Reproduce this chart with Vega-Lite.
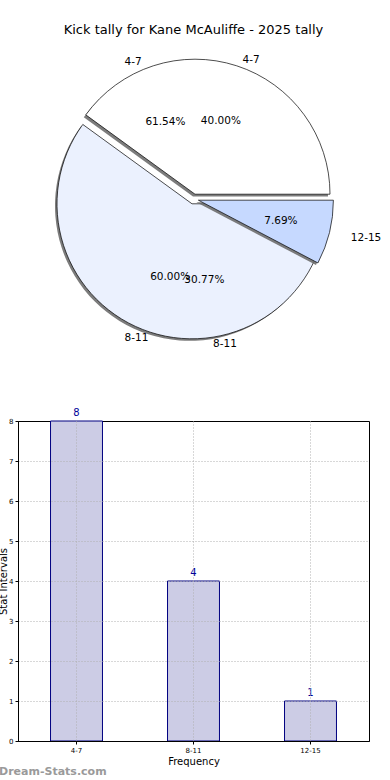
{
  "$schema": "https://vega.github.io/schema/vega-lite/v6.json",
  "autosize": "pad",
  "padding": {"left": -2, "top": 23, "right": 0, "bottom": 0},
  "background": "white",
  "config": {
    "font": "DejaVu Sans",
    "view": {"stroke": null},
    "text": {"font": "DejaVu Sans", "color": "black"}
  },
  "datasets": {
    "tally": [
      {"interval": "4-7", "count": 8, "idx": 1},
      {"interval": "8-11", "count": 4, "idx": 2},
      {"interval": "12-15", "count": 1, "idx": 3}
    ],
    "prev": [
      {"interval": "4-7", "share": 40, "idx": 1},
      {"interval": "8-11", "share": 60, "idx": 2}
    ]
  },
  "bounds": "flush",
  "spacing": 72,
  "vconcat": [
    {
      "width": 351,
      "height": 300,
      "title": {"text": "Kick tally for Kane McAuliffe - 2025 tally", "fontSize": 13, "fontWeight": "normal", "color": "black", "anchor": "middle", "offset": 6},
      "layer": [
        {
          "data": {"name": "prev"},
          "transform": [
            {"joinaggregate": [{"op": "sum", "field": "share", "as": "total"}]},
            {"calculate": "datum.share / datum.total", "as": "frac"}
          ],
          "encoding": {
            "theta": {"field": "share", "type": "quantitative", "stack": true, "scale": {"range": [1.5708, -4.7124]}},
            "order": {"field": "idx", "type": "quantitative"}
          },
          "layer": [
            {"mark": {"type": "arc", "radius": 135, "xOffset": -0.5, "yOffset": -2.5, "fill": "#6e6e6e"},
             "encoding": {"opacity": {"condition": {"test": "datum.interval === '4-7'", "value": 0.9}, "value": 0}}},
            {"mark": {"type": "arc", "radius": 135, "xOffset": -3.5, "yOffset": 6.8, "fill": "#6e6e6e"},
             "encoding": {"opacity": {"condition": {"test": "datum.interval === '8-11'", "value": 0.9}, "value": 0}}},
            {"mark": {"type": "arc", "radius": 135, "xOffset": 1.5, "yOffset": -4.8, "fill": "white", "stroke": "black", "strokeWidth": 0.7},
             "encoding": {"opacity": {"condition": {"test": "datum.interval === '4-7'", "value": 1}, "value": 0}}},
            {"mark": {"type": "arc", "radius": 135, "xOffset": -1.5, "yOffset": 4.8, "fill": "#EBF1FE", "stroke": "black", "strokeWidth": 0.7},
             "encoding": {"opacity": {"condition": {"test": "datum.interval === '8-11'", "value": 1}, "value": 0}}},
            {"mark": {"type": "text", "radius": 82, "fontSize": 10.5, "baseline": "middle", "xOffset": 2},
             "encoding": {"text": {"field": "frac", "type": "quantitative", "format": ".2%"}}},
            {"mark": {"type": "text", "radius": 146, "fontSize": 10.5, "baseline": "middle", "align": "left", "xOffset": 4},
             "encoding": {"text": {"condition": {"test": "datum.interval === '4-7'", "field": "interval"}, "value": ""}}},
            {"mark": {"type": "text", "radius": 146, "fontSize": 10.5, "baseline": "middle", "align": "right"},
             "encoding": {"text": {"condition": {"test": "datum.interval === '8-11'", "field": "interval"}, "value": ""}}}
          ]
        },
        {
          "data": {"name": "tally"},
          "transform": [
            {"joinaggregate": [{"op": "sum", "field": "count", "as": "total"}]},
            {"calculate": "datum.count / datum.total", "as": "frac"}
          ],
          "encoding": {
            "theta": {"field": "count", "type": "quantitative", "stack": true, "scale": {"range": [1.5708, -4.7124]}},
            "order": {"field": "idx", "type": "quantitative"}
          },
          "layer": [
            {"mark": {"type": "arc", "radius": 135, "xOffset": 2.9, "yOffset": 3.2, "fill": "#6e6e6e"},
             "encoding": {"opacity": {"condition": {"test": "datum.interval === '12-15'", "value": 0.9}, "value": 0}}},
            {"mark": {"type": "arc", "radius": 135, "xOffset": 4.9, "yOffset": 1.2, "fill": "#C6D9FF", "stroke": "black", "strokeWidth": 0.7},
             "encoding": {"opacity": {"condition": {"test": "datum.interval === '12-15'", "value": 1}, "value": 0}}},
            {"mark": {"type": "text", "radius": 82, "fontSize": 10.5, "baseline": "middle", "xOffset": 1},
             "encoding": {"text": {"condition": {"test": "datum.interval !== '12-15'", "field": "frac", "type": "quantitative", "format": ".2%"}, "value": ""}}},
            {"mark": {"type": "text", "radius": 90, "fontSize": 10.5, "baseline": "middle"},
             "encoding": {"text": {"condition": {"test": "datum.interval === '12-15'", "field": "frac", "type": "quantitative", "format": ".2%"}, "value": ""}}},
            {"mark": {"type": "text", "radius": 146, "fontSize": 10.5, "baseline": "middle", "align": "right"},
             "encoding": {"text": {"condition": {"test": "datum.interval === '4-7'", "field": "interval"}, "value": ""}}},
            {"mark": {"type": "text", "radius": 146, "fontSize": 10.5, "baseline": "middle", "align": "left", "xOffset": 2},
             "encoding": {"text": {"condition": {"test": "datum.interval === '8-11'", "field": "interval"}, "value": ""}}},
            {"mark": {"type": "text", "radius": 162, "fontSize": 10.5, "baseline": "middle", "align": "left"},
             "encoding": {"text": {"condition": {"test": "datum.interval === '12-15'", "field": "interval"}, "value": ""}}}
          ]
        }
      ],
      "resolve": {"scale": {"theta": "independent"}}
    },
    {
      "width": 351,
      "height": 320,
      "data": {"name": "tally"},
      "view": {"stroke": "black", "strokeWidth": 1},
      "title": {"text": "Dream-Stats.com", "orient": "bottom", "anchor": "start", "frame": "group", "dx": -19, "offset": 0, "color": "#9a9a9a", "fontSize": 11, "fontWeight": "bold"},
      "encoding": {
        "x": {
          "field": "interval", "type": "nominal", "sort": ["4-7", "8-11", "12-15"],
          "scale": {"paddingInner": 0.556, "paddingOuter": 0.278},
          "axis": {"title": "Frequency", "labelAngle": 0, "labelFontSize": 7, "labelColor": "black", "labelPadding": 2,
                   "tickSize": 3, "tickColor": "black", "domainColor": "black", "bandPosition": 0.5,
                   "grid": true, "gridColor": "#b0b0b0", "gridDash": [1, 2], "zindex": 1,
                   "titleFontSize": 10, "titleFontWeight": "normal", "titleColor": "black", "titlePadding": 3}
        },
        "y": {
          "field": "count", "type": "quantitative",
          "scale": {"domain": [0, 8], "nice": false},
          "axis": {"title": "Stat Intervals", "values": [0, 1, 2, 3, 4, 5, 6, 7, 8], "labelFontSize": 7, "labelColor": "black", "labelPadding": 2,
                   "tickSize": 3, "tickColor": "black", "domainColor": "black",
                   "grid": true, "gridColor": "#b0b0b0", "gridDash": [1, 2], "zindex": 1,
                   "gridOpacity": {"condition": {"test": "datum.value === 8 || datum.value === 0", "value": 0}, "value": 1},
                   "titleFontSize": 10, "titleFontWeight": "normal", "titleColor": "black", "titlePadding": 0}
        }
      },
      "layer": [
        {"mark": {"type": "bar", "fill": "#CCCCE5", "stroke": "#000080", "strokeWidth": 1}},
        {"mark": {"type": "text", "dy": -3, "baseline": "bottom", "color": "#000099", "fontSize": 10},
         "encoding": {"text": {"field": "count", "type": "quantitative"}}}
      ]
    }
  ]
}
